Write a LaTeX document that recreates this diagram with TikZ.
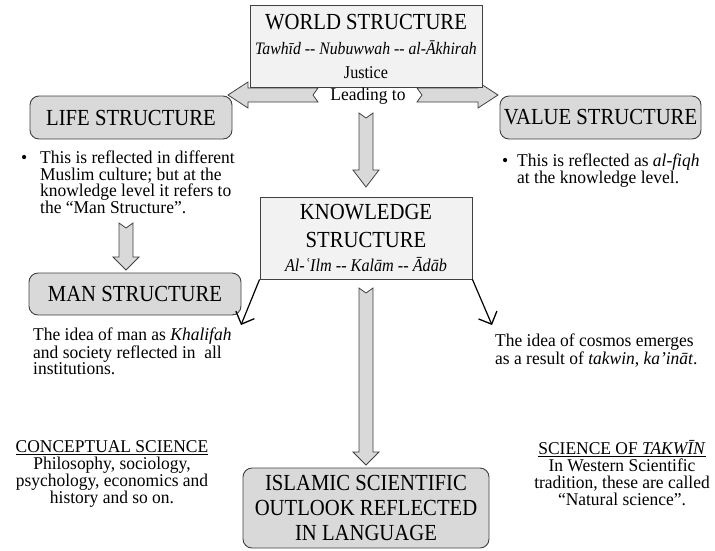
\documentclass[tikz,border=0pt]{standalone}
\usepackage{fontspec}
\setmainfont[FakeStretch=0.97]{Liberation Serif}
\newfontfamily\titlefont[FakeStretch=0.9]{Liberation Serif}
\usepackage{tikz}
\usetikzlibrary{arrows.meta,calc,positioning}
\definecolor{palegray}{RGB}{242,242,242}
\definecolor{midgray}{RGB}{217,217,217}
\definecolor{edgegray}{RGB}{64,64,64}
\newcommand{\titlesize}{\titlefont\fontsize{23}{28}\selectfont}
\newcommand{\notesize}{\fontsize{18}{16.5}\selectfont}
% notched block arrow from tail #2 to tip #3, head length #1
\newcommand{\fatarrow}[3][16pt]{%
  \coordinate (fa-base) at ($(#3)!#1!(#2)$);
  \draw[blockarrow] ($(#2)!7pt!90:(#3)$) -- ($(fa-base)!7pt!90:(#3)$)
    -- ($(fa-base)!13pt!90:(#3)$) -- (#3)
    -- ($(fa-base)!13pt!-90:(#3)$) -- ($(fa-base)!7pt!-90:(#3)$)
    -- ($(#2)!7pt!-90:(#3)$) -- ($(#2)!5pt!(#3)$) -- cycle;}
\tikzset{
  plainbox/.style={draw=edgegray,line width=0.9pt,fill=palegray,inner sep=0pt,
                   align=center,font=\titlesize},
  roundbox/.style={plainbox,fill=midgray,rounded corners=9pt},
  blockarrow/.style={draw=edgegray,line width=0.8pt,fill=midgray,line join=miter},
  pointer/.style={-{Straight Barb[length=10pt,width=20pt,line width=1.3pt]},line width=1.2pt},
  note/.style={font=\notesize,align=left,inner sep=0pt},
  heading/.style={note,align=center,font=\fontsize{18}{17}\selectfont},
}

\begin{document}
\begin{tikzpicture}[x=1pt,y=-1pt]
  \path[use as bounding box] (0,0) rectangle (715,550);

  % arrows leaving the world structure
  \coordinate (lefttail) at (318,95);
  \coordinate (lefttip) at (228,95);
  \coordinate (righttail) at (417,95);
  \coordinate (righttip) at (498,95);
  \fatarrow[20pt]{lefttail}{lefttip}
  \fatarrow[20pt]{righttail}{righttip}

  \node[plainbox,minimum width=232pt,minimum height=82pt] (world) at (366,46)
    {WORLD STRUCTURE\\[-3pt]
     {\fontsize{17.5}{16.5}\selectfont\itshape Tawhīd -{}- Nubuwwah -{}- al-Ākhirah}\\[-4pt]
     {\notesize Justice}};
  \node[note] (leading) at (368,96) {Leading to};

  \node[roundbox,minimum width=202pt,minimum height=43pt] (life) at (131,117.5)
    {LIFE STRUCTURE};
  \node[roundbox,minimum width=201pt,minimum height=43pt] (value) at (600.5,117.5)
    {VALUE STRUCTURE};
  \node[note,anchor=north west] (lifenote) at (40,151)
    {\llap{\textbullet\hspace{13pt}}This is reflected in different\\
     Muslim culture; but at the\\
     knowledge level it refers to\\
     the “Man Structure”.};
  \node[note,anchor=north west] (valuenote) at (517,154)
    {\llap{\textbullet\hspace{9pt}}This is reflected as \textit{al-fiqh}\\
     at the knowledge level.};

  \node[plainbox,minimum width=212pt,minimum height=82pt] (knowledge) at (366,238)
    {KNOWLEDGE\\STRUCTURE\\[-4pt]
     {\notesize\itshape Al-ʿIlm -{}- Kalām -{}- Ādāb}};
  \node[roundbox,minimum width=212pt,minimum height=42pt] (man) at (135,294)
    {MAN STRUCTURE};
  \node[note,anchor=north west] (mannote) at (33,328)
    {The idea of man as \textit{Khalifah}\\
     and society reflected in\ \ all\\
     institutions.};
  \node[note,anchor=north west] (cosmosnote) at (495,334)
    {The idea of cosmos emerges\\
     as a result of \textit{takwin}, \textit{ka’ināt}.};

  \node[roundbox,minimum width=246pt,minimum height=80pt,
        font=\titlefont\fontsize{23}{25}\selectfont] (islamic) at (366,508)
    {ISLAMIC SCIENTIFIC\\OUTLOOK REFLECTED\\IN LANGUAGE};

  \node[heading,anchor=north] (conceptual) at (112,440)
    {\underline{CONCEPTUAL SCIENCE}\\
     Philosophy, sociology,\\
     psychology, economics and\\
     history and so on.};
  \node[heading,anchor=north] (takwin) at (622,440)
    {\underline{SCIENCE OF \textit{TAKWĪN}}\\
     In Western Scientific\\
     tradition, these are called\\
     “Natural science”.};

  % downward block arrows
  \coordinate (downtail) at (366,113);
  \coordinate (downtip) at (366,187);
  \coordinate (mantail) at (126,223);
  \coordinate (mantip) at (126,270);
  \coordinate (outtail) at (366,288);
  \coordinate (outtip) at (366,465);
  \fatarrow[17pt]{downtail}{downtip}
  \fatarrow[13pt]{mantail}{mantip}
  \fatarrow[13pt]{outtail}{outtip}

  % thin pointers from the knowledge structure
  \coordinate (manpoint) at (241,325);
  \coordinate (cosmospoint) at (492,325);
  \draw[pointer] (knowledge.south west) -- (manpoint);
  \draw[pointer] (knowledge.south east) -- (cosmospoint);
\end{tikzpicture}
\end{document}
